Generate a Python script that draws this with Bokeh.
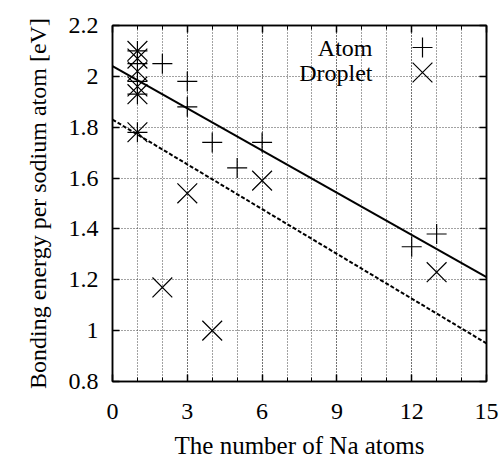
from bokeh.plotting import figure
from bokeh.models import (FixedTicker, CustomJSTickFormatter, LinearAxis, Label,
                          Legend, LegendItem, Range1d)
from bokeh.embed import file_html
from bokeh.resources import INLINE

# ---- data ----
atom_n = [1, 1, 1, 1, 1, 2, 3, 3, 4, 5, 6, 12, 13]
atom_e = [2.10, 2.05, 1.98, 1.93, 1.78, 2.05, 1.98, 1.88, 1.74, 1.64, 1.74, 1.33, 1.38]

droplet_n = [1, 1, 1, 1, 1, 1, 2, 3, 4, 6, 13]
droplet_e = [2.10, 2.07, 2.02, 1.96, 1.93, 1.78, 1.17, 1.54, 1.00, 1.59, 1.23]

fit_n = [0, 15]
atom_fit = [2.04, 1.21]
droplet_fit = [1.83, 0.95]

x_ticks = [0, 3, 6, 9, 12, 15]
x_minor = list(range(16))
y_ticks = [0.8, 1, 1.2, 1.4, 1.6, 1.8, 2, 2.2]

FONT = "Liberation Serif"

p = figure(frame_width=374, frame_height=356,
           min_border_left=112, min_border_right=15,
           min_border_top=25, min_border_bottom=76,
           x_range=Range1d(0, 15), y_range=Range1d(0.8, 2.2),
           output_backend="svg", toolbar_location=None,
           background_fill_color="white", border_fill_color="white")

xax = p.xaxis[0]
yax = p.yaxis[0]

xticker = FixedTicker(ticks=x_ticks, minor_ticks=x_minor)
yticker = FixedTicker(ticks=y_ticks, minor_ticks=[])

xax.ticker = xticker
yax.ticker = yticker
yax.formatter = CustomJSTickFormatter(code="return String(Math.round(tick*10)/10);")
p.xgrid.ticker = xticker
p.ygrid.ticker = yticker

for g in (p.xgrid, p.ygrid):
    g.grid_line_color = "#444444"
    g.grid_line_dash = "1 2"
    g.grid_line_width = 1
p.xgrid.minor_grid_line_color = "#444444"
p.xgrid.minor_grid_line_dash = "1 2"
p.xgrid.minor_grid_line_width = 1

p.outline_line_color = "black"
p.outline_line_width = 1.5

blank = CustomJSTickFormatter(code="return '';")
top = LinearAxis(ticker=xticker, formatter=blank)
right = LinearAxis(ticker=yticker, formatter=blank)
for ax in (top, right):
    ax.major_label_text_font_size = "2px"
    ax.major_label_standoff = 0
p.add_layout(top, "above")
p.add_layout(right, "right")

for ax in (xax, yax, top, right):
    ax.axis_line_color = "black"
    ax.axis_line_width = 1.5
    ax.major_tick_in = 7
    ax.major_tick_out = 0
    ax.minor_tick_in = 4
    ax.minor_tick_out = 0
    ax.major_tick_line_color = "black"
    ax.minor_tick_line_color = "black"
    ax.major_tick_line_width = 1.5

for ax in (xax, yax):
    ax.major_label_text_font = FONT
    ax.major_label_text_font_size = "24px"
    ax.major_label_text_color = "black"
    ax.axis_label_text_font = FONT
    ax.axis_label_text_font_style = "normal"
    ax.axis_label_text_color = "black"
xax.axis_label_text_font_size = "25px"
yax.axis_label_text_font_size = "24px"

xax.axis_label = "The number of Na atoms"
yax.axis_label = "Bonding energy per sodium atom [eV]"
xax.major_label_standoff = 22
xax.axis_label_standoff = 10
yax.major_label_standoff = 14
yax.axis_label_standoff = 15

# fitted lines
p.line(fit_n, atom_fit, line_color="black", line_width=2)
p.line(fit_n, droplet_fit, line_color="black", line_width=2, line_dash="4 2")

# data points
r_atom = p.scatter(atom_n, atom_e, marker="cross", size=20,
                   line_color="black", line_width=1.2)
r_drop = p.scatter(droplet_n, droplet_e, marker="x", size=28,
                   line_color="black", line_width=1.2)

# key (text on the left, sample on the right, gnuplot style)
for txt, ys in (("Atom", 334), ("Droplet", 309)):
    p.add_layout(Label(x=260, y=ys, x_units="screen", y_units="screen", text=txt,
                       text_align="right", text_baseline="middle",
                       text_font=FONT, text_font_size="24px", text_color="black"))

# legend samples: glyph box g gives marker size 0.4*g
for r, ys, g in ((r_atom, 334, 50), (r_drop, 309, 70)):
    leg = Legend(items=[LegendItem(label=" ", renderers=[r])],
                 location=(310 - g // 2, ys - g // 2), glyph_width=g, glyph_height=g,
                 padding=0, margin=0, spacing=0, label_standoff=0,
                 label_width=0, label_height=0, label_text_font_size="1px",
                 background_fill_alpha=0, border_line_alpha=0)
    p.add_layout(leg)

open("out.html", "w").write(file_html(p, INLINE))
